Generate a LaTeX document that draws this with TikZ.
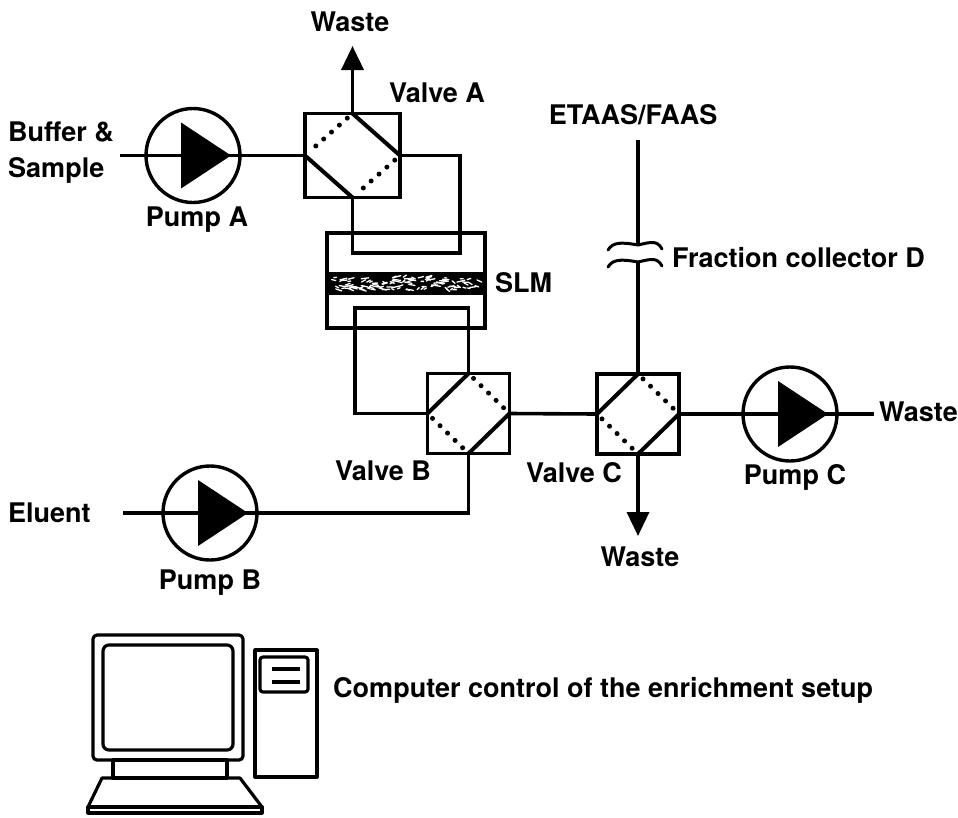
\documentclass[tikz,border=0pt]{standalone}
\usepackage{fontspec}
\setmainfont{TeX Gyre Heros}
\usetikzlibrary{arrows.meta}
\begin{document}
\begin{tikzpicture}[x=1pt,y=-1pt,
  pipe/.style={line width=3.6pt},
  valvebox/.style={draw, rectangle, line width=3.4pt, inner sep=0pt, outer sep=0pt,
    minimum width=82pt, minimum height=80pt},
  pumpcircle/.style={draw, circle, line width=3.4pt, inner sep=0pt, outer sep=0pt,
    minimum size=94pt},
  lbl/.style={font=\fontsize{27}{36}\selectfont\bfseries, inner sep=0pt},
  solidpath/.style={line width=4pt},
  dotpath/.style={line width=5pt, line cap=round, dash pattern=on 0pt off 10.5pt,
    shorten <=7pt, shorten >=7pt},
  wastetip/.style={-{Triangle[width=22pt,length=24pt]}},
  pc/.style={line width=3.2pt, line join=round}
]
\useasboundingbox (0,0) rectangle (958,817);

% ---- valves ----
\node[valvebox, minimum width=95pt, minimum height=84pt] (vA) at (352.5,155.5) {};
\node[valvebox] (vB) at (468.5,413.5) {};
\node[valvebox] (vC) at (638,414) {};

% valve A channels
\draw[solidpath] (vA.north) -- (vA.east);
\draw[solidpath] (vA.west) -- (vA.south);
\draw[dotpath] (vA.north) -- (vA.west);
\draw[dotpath] (vA.east) -- (vA.south);
% valve B channels
\draw[solidpath] (vB.north) -- (vB.west);
\draw[solidpath] (vB.east) -- (vB.south);
\draw[dotpath] (vB.north) -- (vB.east);
\draw[dotpath] (vB.west) -- (vB.south);
% valve C channels
\draw[solidpath] (vC.north) -- (vC.west);
\draw[solidpath] (vC.east) -- (vC.south);
\draw[dotpath] (vC.north) -- (vC.east);
\draw[dotpath] (vC.west) -- (vC.south);

% ---- SLM cell ----
\node[draw, rectangle, line width=3.4pt, inner sep=0pt, minimum width=158pt,
  minimum height=95pt] (slm) at (406,280.5) {};
\fill (327,272) rectangle (485,295);
\pgfmathsetseed{7}
\foreach \k in {1,...,110}{
  \pgfmathsetmacro{\sx}{331+148*rnd}
  \pgfmathsetmacro{\sy}{277+13*rnd}
  \pgfmathsetmacro{\dx}{2+6*rnd}
  \pgfmathsetmacro{\dy}{-2.5+5*rnd}
  \draw[white, line width=1.3pt, line cap=round] (\sx,\sy) -- ++(\dx,\dy);
}

% ---- pumps ----
\node[pumpcircle] (pA) at (193,155.5) {};
\node[pumpcircle] (pB) at (210,513) {};
\node[pumpcircle] (pC) at (790,414) {};

% ---- tubing ----
\coordinate (bsIn) at (120,155.5);
\draw[pipe] (bsIn) -- (vA.west);
\draw[pipe] (vA.east) -| (460,253) -| (vA.south);
\draw[pipe] (vB.west) -| (355,308) -| (vB.north);
\coordinate (elIn) at (123,513);
\draw[pipe] (elIn) -| (vB.south);
\draw[pipe] (vB.east) -- (vC.west);
\coordinate (wOut) at (874,414);
\draw[pipe] (vC.east) -- (wOut);

% waste outlets
\coordinate (wA) at (352.5,46);
\draw[pipe, wastetip] (vA.north) -- (wA);
\coordinate (wC) at (638,536);
\draw[pipe, wastetip] (vC.south) -- (wC);

% line to the detector, with a break
\coordinate (etTop) at (638,140);
\coordinate (brkU) at (638,245);
\coordinate (brkL) at (638,262);
\draw[pipe] (etTop) -- (brkU);
\draw[pipe] (brkL) -- (vC.north);
\draw[line width=3pt, line cap=round] (608,250) .. controls (613,242) and (621,242) .. (638,245)
  .. controls (651,242) and (657,240) .. (662,249);
\draw[line width=3pt, line cap=round] (608,267) .. controls (613,259) and (621,259) .. (638,262)
  .. controls (651,259) and (657,257) .. (662,266);

% pump triangles
\foreach \p in {pA,pB,pC}{
  \fill ([xshift=-12pt,yshift=33pt]\p.center) -- ([xshift=-12pt,yshift=-33pt]\p.center)
    -- ([xshift=38pt]\p.center) -- cycle;
}

% ---- computer ----
\draw[pc, rounded corners=4pt] (93,635) rectangle (243,760);
\draw[pc, rounded corners=6pt] (103,645) rectangle (233,750);
\draw[pc] (113,760) rectangle (227,778);
\draw[pc] (102,778) -- (240,778) -- (262,807) -- (88,807) -- cycle;
\draw[pc] (88,807) rectangle (262,813);
\draw[pc] (255,650) rectangle (317,777);
\draw[pc, rounded corners=3pt] (260,657) rectangle (308,692);
\draw[pc] (272,669) -- (300,669);
\draw[pc] (272,682) -- (300,682);

% ---- labels ----
\node[lbl] (tWA) at (350,22) {Waste};
\node[lbl] (tVA) at (437,93) {Valve A};
\node[lbl, anchor=west, align=left] (tBS) at (8,153) {Buffer \&\\Sample};
\node[lbl] (tPA) at (197,220) {Pump A};
\node[lbl] (tET) at (633,115) {ETAAS/FAAS};
\node[lbl, anchor=west] (tFC) at (672,258) {Fraction collector D};
\node[lbl, anchor=west] (tSLM) at (495,283) {SLM};
\node[lbl] (tVB) at (383,471) {Valve B};
\node[lbl] (tVC) at (574,473) {Valve C};
\node[lbl] (tWC) at (640,557) {Waste};
\node[lbl] (tPC) at (795,477) {Pump C};
\node[lbl, anchor=west] (tWR) at (879,412) {Waste};
\node[lbl, anchor=west] (tEl) at (8,513) {Eluent};
\node[lbl] (tPB) at (210,583) {Pump B};
\node[lbl, anchor=west] (tCC) at (333,690) {Computer control of the enrichment setup};
\end{tikzpicture}
\end{document}
